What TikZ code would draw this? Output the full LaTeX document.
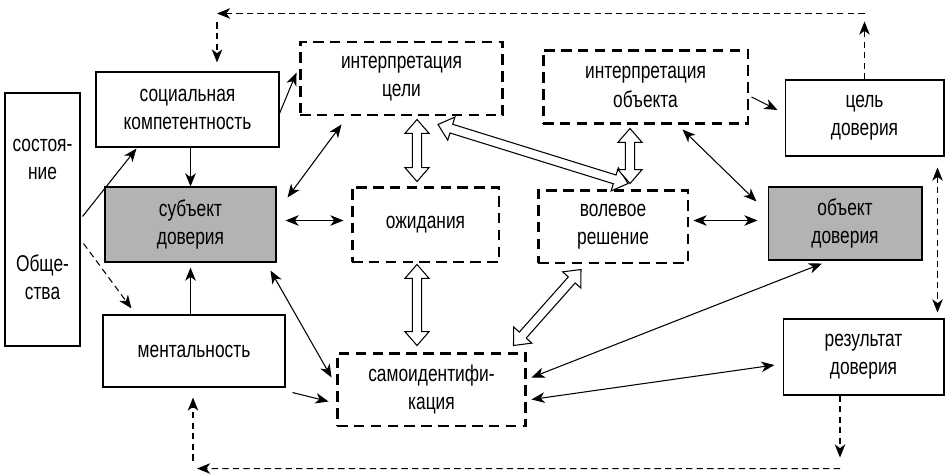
\documentclass[tikz,border=0pt]{standalone}
\usepackage{fontspec}
\setmainfont{Liberation Sans}[FakeStretch=0.76]
\usetikzlibrary{calc, positioning}
\usetikzlibrary{arrows.meta}
\usetikzlibrary{shapes.arrows}
\definecolor{boxgray}{RGB}{179,179,179}

\newcommand{\hollowarrow}[2]{%
  \path let \p1=($(#2)-(#1)$), \n1={veclen(\x1,\y1)} in
    (#1) -- (#2) node[hollow, midway, sloped, minimum height=\n1] {};}

\begin{document}
\begin{tikzpicture}[x=0.02cm, y=-0.02cm,
  >={Stealth[length=7.5pt,width=6pt,inset=2.2pt]},
  every node/.style={font=\fontsize{13}{16}\selectfont, align=center},
  solidbox/.style={draw, line width=0.6pt, inner sep=0pt},
  greybox/.style={solidbox, fill=boxgray},
  dashbox/.style={draw, line width=1.7pt, dash pattern=on 6pt off 3.6pt, inner sep=0pt},
  link/.style={line width=0.6pt},
  feedback/.style={line width=0.6pt, dash pattern=on 3.6pt off 2.4pt},
  hollow/.style={double arrow, draw, fill=white, line width=0.6pt, inner xsep=0pt,
    inner ysep=2.3pt, minimum width=0pt, double arrow head extend=4.3pt, double arrow tip angle=82}]
\useasboundingbox (0,0) rectangle (945,473);

% boxes
\node[solidbox, minimum width=1.5cm, minimum height=5.06cm] (state) at (42.5,219.5) {состоя-\\ние\\[1.28cm]Обще-\\ства};
\node[solidbox, minimum width=3.66cm, minimum height=1.5cm] (soc) at (187.5,109.5) {социальная\\компетентность};
\node[greybox, minimum width=3.42cm, minimum height=1.5cm] (subj) at (190.5,224.5) {субъект\\доверия};
\node[solidbox, minimum width=3.64cm, minimum height=1.44cm] (ment) at (194,351) {ментальность};
\node[dashbox, minimum width=4.06cm, minimum height=1.46cm] (intc) at (401.5,78.5) {интерпретация\\цели};
\node[dashbox, minimum width=2.94cm, minimum height=1.5cm] (ozh) at (425.5,224.5) {ожидания};
\node[dashbox, minimum width=4.1cm, minimum height=1.48cm] (into) at (645.5,87) {интерпретация\\объекта};
\node[dashbox, minimum width=3cm, minimum height=1.46cm] (vol) at (613,226.5) {волевое\\решение};
\node[dashbox, minimum width=3.78cm, minimum height=1.46cm] (samo) at (431.5,389.5) {самоидентифи-\\кация};
\node[solidbox, minimum width=3.18cm, minimum height=1.52cm] (celd) at (864.5,118) {цель\\доверия};
\node[greybox, minimum width=3.08cm, minimum height=1.46cm] (objd) at (845,223.5) {объект\\доверия};
\node[solidbox, minimum width=3.22cm, minimum height=1.52cm] (resd) at (863.5,357) {результат\\доверия};

% feedback loops
\coordinate (topr) at ($(celd.north)+(0,-66)$);
\coordinate (topl) at ($(soc.north)+(29.5,-58)$);
\coordinate (botr) at ($(resd.south)+(-23.5,73)$);
\coordinate (botl) at ($(ment.south)+(-1,81)$);
\draw[feedback,->] (celd.north) -- ($(topr)+(0,8)$);
\draw[feedback,->] (topr) -- (topl);
\draw[feedback,->] ($(topl)+(0,9)$) -- ($(soc.north)+(29.5,-9)$);
\draw[feedback,<->] ($(celd.south east)+(-7,11)$) -- ($(resd.north east)+(-7,-6)$);
\draw[feedback,->] ($(resd.south)+(-23.5,0)$) -- ($(botr)+(0,-11)$);
\draw[feedback,->] (botr) -- ($(botl)+(4,0)$);
\draw[feedback,->] ($(botl)+(0,-8)$) -- ($(ment.south)+(-1,10)$);
\draw[feedback,->] ($(state.east)+(3,24)$) -- ($(ment.north west)+(29,-6)$);

% links
\draw[link,->] ($(state.east)+(2,-3)$) -- ($(soc.south)+(-51,1)$);
\draw[link,->] (subj.north |- soc.south) -- (subj.north);
\draw[link,->] (subj.south |- ment.north) -- ($(subj.south)+(0,5)$);
\draw[link,->] ($(soc.east)+(0,4)$) -- ($(intc.west)+(-2,-6)$);
\draw[link,<->] ($(intc.south west)+(43,8)$) -- ($(subj.north east)+(11,11)$);
\draw[link,<->] ($(subj.east)+(9,-4)$) -- ($(ozh.west)+(-7,-4)$);
\draw[link,<->] ($(subj.south east)+(-6,8)$) -- ($(samo.west)+(-4,-12)$);
\draw[link,->] ($(ment.south east)+(7,5)$) -- ($(samo.west)+(-7,12)$);
\draw[link,->] ($(into.east)+(2,10)$) -- ($(celd.west)+(-7,-8)$);
\draw[link,<->] ($(into.south)+(37,4)$) -- ($(objd.north west)+(-11,15)$);
\draw[link,<->] ($(vol.east)+(4,-6)$) -- ($(objd.west)+(-10,-3)$);
\draw[link,<->] ($(samo.east)+(4,-12)$) -- ($(objd.south)+(-23,3)$);
\draw[link,<->] ($(samo.east)+(4,10)$) -- ($(resd.west)+(-8,8)$);

% hollow arrows
\coordinate (h1a) at ($(intc.south)+(15.5,3)$);
\coordinate (h1b) at ($(ozh.north)+(-8.5,-4)$);
\coordinate (h2a) at ($(ozh.south)+(-8.5,1)$);
\coordinate (h2b) at ($(samo.north)+(-14.5,-6)$);
\coordinate (h3a) at ($(intc.south)+(36.5,8)$);
\coordinate (h3b) at ($(vol.north)+(15,-5)$);
\coordinate (h4a) at ($(into.south)+(-15.5,3)$);
\coordinate (h4b) at ($(vol.north)+(17,-5)$);
\coordinate (h5a) at ($(vol.south)+(-32,5)$);
\coordinate (h5b) at ($(samo.north east)+(-14,-6)$);
\hollowarrow{h1a}{h1b}
\hollowarrow{h2a}{h2b}
\hollowarrow{h3a}{h3b}
\hollowarrow{h4a}{h4b}
\hollowarrow{h5a}{h5b}
\end{tikzpicture}
\end{document}
